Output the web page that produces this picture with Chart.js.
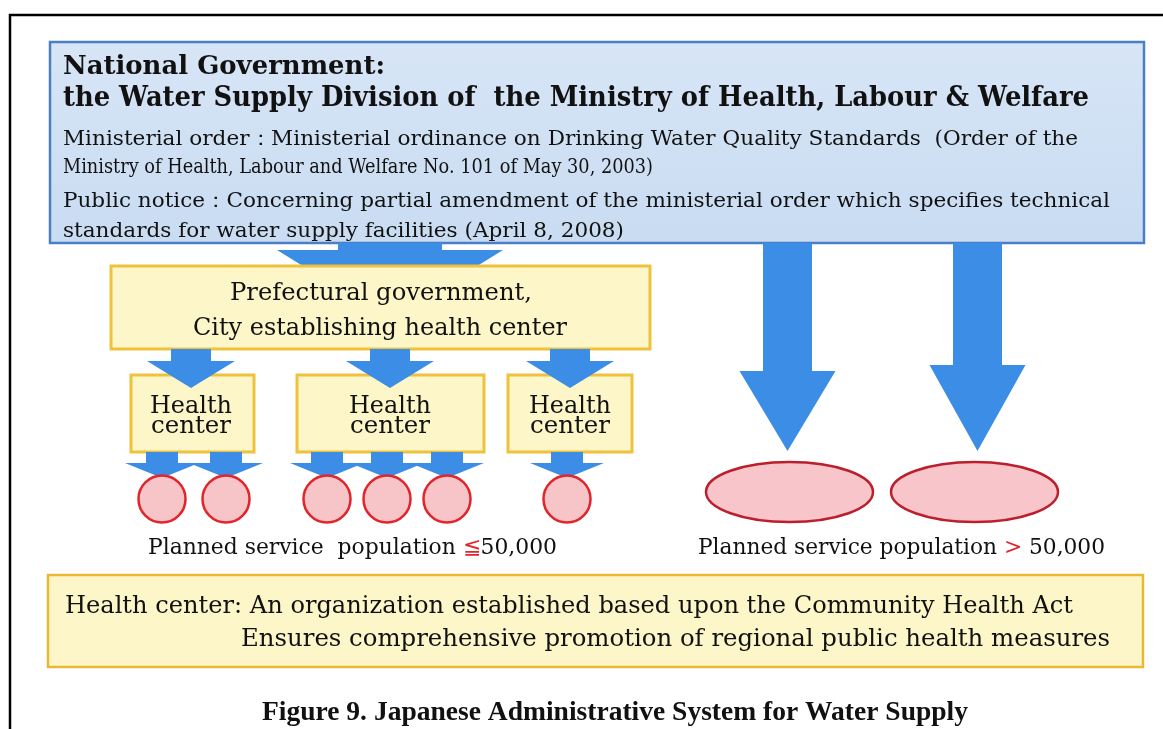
<!DOCTYPE html>
<html lang="en">
<head>
<meta charset="UTF-8">
<title>Japanese Administrative System for Water Supply</title>
<script src="https://cdn.jsdelivr.net/npm/chart.js"></script>
<style>
  body { margin: 0; background: #fff; }
  canvas { display: block; }
</style>
</head>
<body>
<canvas id="diagram" width="1163" height="729"></canvas>
<script>
// ---- content of the figure ----
const govTitle = ['National Government:', 'the Water Supply Division of  the Ministry of Health, Labour & Welfare'];
const govLines = [
  'Ministerial order\uFF1AMinisterial ordinance on Drinking Water Quality Standards  (Order of the',
  'Ministry of Health, Labour and Welfare No. 101 of May 30, 2003)',
  'Public notice\uFF1AConcerning partial amendment of the ministerial order which specifies technical',
  'standards for water supply facilities (April 8, 2008)'
];
const prefLines = ['Prefectural government,', 'City establishing health center'];
const centerLines = ['Health', 'center'];
const suppliersPerCenter = [2, 3, 1];   // small water supplies under each health center
const largeSuppliers = 2;               // supplied directly by the national government
const popThreshold = 50000;
const noteLines = [
  'Health center: An organization established based upon the Community Health Act',
  'Ensures comprehensive promotion of regional public health measures'
];
const caption = 'Figure 9. Japanese Administrative System for Water Supply';

// ---- layout (axis units, x 0..1163, y 0..729 top-down) ----
const L = {
  frame: { left: 10, top: 15 },
  gov: { x0: 50, x1: 1144, y0: 42, y1: 243 },
  govTitleBase: [74, 106], govTitleW: [322, 1026],
  govBase: [145, 173, 207, 237], govW: [1015, 590, 1047, 561], textLeft: 63,
  pref: { x0: 111, x1: 650, y0: 266, y1: 349 },
  prefLeft: [230, 193], prefBase: [300, 335], prefW: [302, 374],
  centers: [{ x0: 131, x1: 254 }, { x0: 297, x1: 484 }, { x0: 508, x1: 632 }],
  centerY: [375, 452], centerMid: [191, 390, 570], centerBase: [413, 433], centerW: [82, 80],
  circleX: [162, 226, 327, 387, 447, 567], circleY: 499,
  ellipseX: [789.5, 974.5], ellipseY: 492, ellipseR: [83.5, 30],
  bigArrowX: [787.5, 977.5], bigHeadBase: [371, 365],
  planLeft: [148, 698], planBase: 554, planW: [409, 407],
  note: { x0: 48, x1: 1143, y0: 575, y1: 667 },
  noteLeft: [65, 241], noteBase: [613, 646], noteW: [1008, 869],
  capLeft: 262, capBase: 720, capW: 706
};

const BLUE = '#3b8de6';
const INK = '#111111';
const SERIF = '"DejaVu Serif", serif';

// circles come from the counts per health center
const smallPoints = [];
let k = 0;
suppliersPerCenter.forEach(n => {
  for (let i = 0; i < n; i++) smallPoints.push({ x: L.circleX[k++], y: L.circleY });
});

const diagramPlugin = {
  id: 'diagram',
  beforeDatasetsDraw(chart) {
    const ctx = chart.ctx;
    const sx = chart.scales.x, sy = chart.scales.y;
    const px = v => sx.getPixelForValue(v);
    const py = v => sy.getPixelForValue(v);

    function rect(b, fill, stroke, lw) {
      ctx.save();
      ctx.fillStyle = fill;
      ctx.fillRect(px(b.x0), py(b.y0), px(b.x1) - px(b.x0), py(b.y1) - py(b.y0));
      ctx.strokeStyle = stroke;
      ctx.lineWidth = lw;
      ctx.strokeRect(px(b.x0), py(b.y0), px(b.x1) - px(b.x0), py(b.y1) - py(b.y0));
      ctx.restore();
    }
    function arrow(cx, top, shaft, headBase, head, tip) {
      ctx.save();
      ctx.fillStyle = BLUE;
      ctx.beginPath();
      ctx.moveTo(px(cx - shaft), py(top));
      ctx.lineTo(px(cx + shaft), py(top));
      ctx.lineTo(px(cx + shaft), py(headBase));
      ctx.lineTo(px(cx + head), py(headBase));
      ctx.lineTo(px(cx), py(tip));
      ctx.lineTo(px(cx - head), py(headBase));
      ctx.lineTo(px(cx - shaft), py(headBase));
      ctx.closePath();
      ctx.fill();
      ctx.restore();
    }

    // outer frame
    ctx.save();
    ctx.strokeStyle = '#000';
    ctx.lineWidth = 2.5;
    ctx.beginPath();
    ctx.moveTo(px(L.frame.left), py(729));
    ctx.lineTo(px(L.frame.left), py(L.frame.top));
    ctx.lineTo(px(1163), py(L.frame.top));
    ctx.stroke();
    ctx.restore();

    // national government box
    const g = L.gov;
    const grad = ctx.createLinearGradient(0, py(g.y0), 0, py(g.y1));
    grad.addColorStop(0, '#d7e5f6');
    grad.addColorStop(1, '#c9dcf2');
    rect(g, grad, '#4a7fc6', 2.5);

    // arrows from the national government
    arrow(390, g.y1, 52, 250, 113, 320);
    L.bigArrowX.forEach((cx, i) => arrow(cx, g.y1, 24.5, L.bigHeadBase[i], 48, 451));

    // prefectural box and health centers
    rect(L.pref, '#fcf6c8', '#eec23c', 3);
    L.centers.forEach(c => rect({ x0: c.x0, x1: c.x1, y0: L.centerY[0], y1: L.centerY[1] }, '#fcf6c8', '#eec23c', 3));
    L.centerMid.forEach(cx => arrow(cx, L.pref.y1, 20, 361, 44, 388));
    L.circleX.forEach(cx => arrow(cx, L.centerY[1], 16, 463, 37, 478));

    // large suppliers
    for (let i = 0; i < largeSuppliers; i++) {
      ctx.save();
      ctx.beginPath();
      ctx.ellipse(px(L.ellipseX[i]), py(L.ellipseY), L.ellipseR[0], L.ellipseR[1], 0, 0, Math.PI * 2);
      ctx.fillStyle = '#f8c6ca';
      ctx.fill();
      ctx.strokeStyle = '#bb1f2d';
      ctx.lineWidth = 2.5;
      ctx.stroke();
      ctx.restore();
    }

    // note box
    rect(L.note, '#fcf6c8', '#e9b932', 2.5);
  },
  afterDatasetsDraw(chart) {
    const ctx = chart.ctx;
    const sx = chart.scales.x, sy = chart.scales.y;
    const px = v => sx.getPixelForValue(v);
    const py = v => sy.getPixelForValue(v);

    // draws text segments squeezed horizontally to the given width
    function fitText(segs, left, base, width, font) {
      if (typeof segs === 'string') segs = [[segs, INK]];
      ctx.save();
      ctx.font = font;
      ctx.textBaseline = 'alphabetic';
      ctx.textAlign = 'left';
      const total = segs.reduce((s, t) => s + ctx.measureText(t[0]).width, 0);
      ctx.translate(px(left), py(base));
      ctx.scale((px(left + width) - px(left)) / total, 1);
      let x = 0;
      segs.forEach(t => {
        ctx.fillStyle = t[1];
        ctx.fillText(t[0], x, 0);
        x += ctx.measureText(t[0]).width;
      });
      ctx.restore();
    }

    govTitle.forEach((t, i) => fitText(t, L.textLeft, L.govTitleBase[i], L.govTitleW[i], 'bold ' + (i ? 27 : 26) + 'px ' + SERIF));
    govLines.forEach((t, i) => fitText(t, L.textLeft, L.govBase[i], L.govW[i], '20px ' + SERIF));
    prefLines.forEach((t, i) => fitText(t, L.prefLeft[i], L.prefBase[i], L.prefW[i], '25px ' + SERIF));
    L.centerMid.forEach(cx => {
      centerLines.forEach((t, i) => fitText(t, cx - L.centerW[i] / 2, L.centerBase[i], L.centerW[i], '24px ' + SERIF));
    });

    const pop = popThreshold.toLocaleString('en-US');
    fitText([['Planned service  population ', INK], ['\u2266', '#e0252b'], [pop, INK]], L.planLeft[0], L.planBase, L.planW[0], '22px ' + SERIF);
    fitText([['Planned service population ', INK], ['>', '#e0252b'], [' ' + pop, INK]], L.planLeft[1], L.planBase, L.planW[1], '22px ' + SERIF);

    noteLines.forEach((t, i) => fitText(t, L.noteLeft[i], L.noteBase[i], L.noteW[i], '24px ' + SERIF));
    fitText(caption, L.capLeft, L.capBase, L.capW, 'bold 27px "Liberation Serif", "Times New Roman", serif');
  }
};

new Chart(document.getElementById('diagram'), {
  type: 'scatter',
  data: {
    datasets: [{
      label: 'Small water supplies',
      data: smallPoints,
      pointRadius: 23.5,
      pointHoverRadius: 23.5,
      pointBackgroundColor: '#f7c4c7',
      pointBorderColor: '#e2242b',
      pointBorderWidth: 2.5
    }]
  },
  options: {
    responsive: false,
    devicePixelRatio: 1,
    animation: false,
    events: [],
    layout: { padding: 0, autoPadding: false },
    plugins: { legend: { display: false }, tooltip: { enabled: false } },
    scales: {
      x: { type: 'linear', min: 0, max: 1163, display: false },
      y: { type: 'linear', min: 0, max: 729, reverse: true, display: false }
    }
  },
  plugins: [diagramPlugin]
});
</script>
</body>
</html>
